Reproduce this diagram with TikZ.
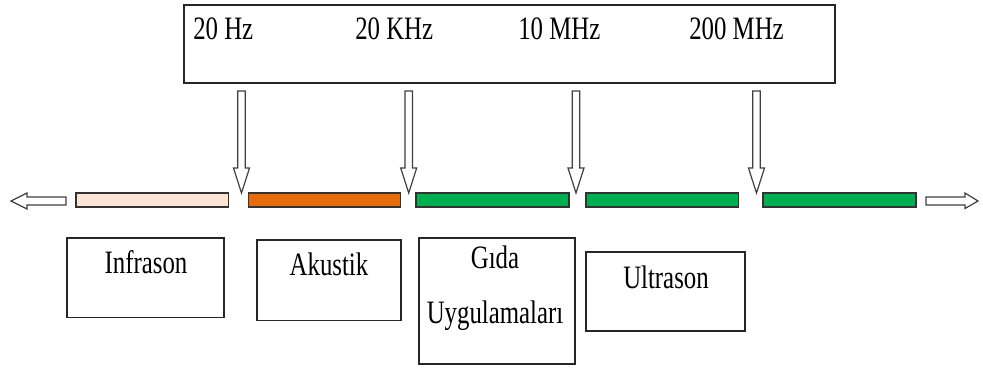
\documentclass[tikz,border=0pt]{standalone}
\usepackage{fontspec}
\newfontfamily\lblfont[FakeStretch=0.76]{Liberation Serif}
\definecolor{peach}{HTML}{FBE5D6}
\definecolor{orng}{HTML}{E46C0A}
\definecolor{grn}{HTML}{00B050}
\begin{document}
\begin{tikzpicture}[x=0.75pt,y=-0.75pt,
  frame/.style={draw=black!85,line width=1.1pt},
  bar/.style={draw=black!80,line width=1pt},
  blockarrow/.style={draw=black!75,line width=0.9pt,fill=white,line join=miter},
  txt/.style={font=\lblfont\fontsize{24.5}{41}\selectfont,inner sep=0pt,anchor=base,align=center},
  toptxt/.style={font=\lblfont\fontsize{24.5}{30}\selectfont,inner sep=0pt,anchor=base west}]
\useasboundingbox (0,0) rectangle (983,369);
% top box
\draw[frame] (184,5) rectangle (835,83);
\coordinate (topbottom) at (184,83);
\node[toptxt] (f1) at (193,39) {20 Hz};
\node[toptxt] (f2) at (355,39) {20 KHz};
\node[toptxt] (f3) at (518,39) {10 MHz};
\node[toptxt] (f4) at (689,39) {200 MHz};
% down arrows
\foreach \cx in {241.5,408.7,576,756.5}{
  \draw[blockarrow] (\cx-3.8,91) -- (\cx+3.8,91) -- (\cx+3.8,168) -- (\cx+8,168)
     -- (\cx,193) -- (\cx-8,168) -- (\cx-3.8,168) -- cycle;
}
% bars
\draw[bar,fill=peach] (76,193) rectangle (228.5,207);
\draw[bar,fill=orng] (248.5,193) rectangle (400.7,207);
\draw[bar,fill=grn] (416,193) rectangle (569,207);
\draw[bar,fill=grn] (586,193) rectangle (738.7,207);
\draw[bar,fill=grn] (763,193) rectangle (916,207);
% side arrows
\draw[blockarrow] (66,197) -- (27,197) -- (27,193) -- (11,201) -- (27,209) -- (27,205) -- (66,205) -- cycle;
\draw[blockarrow] (926,197) -- (965,197) -- (965,193) -- (978,201) -- (965,208.5) -- (965,205) -- (926,205) -- cycle;
% lower boxes
\draw[frame] (67,238) rectangle (224,317.5);
\draw[frame] (257,240) rectangle (401,320.5);
\draw[frame] (419,238) rectangle (575,364);
\draw[frame] (586,252) rectangle (745,331);
\node[txt] (t1) at (146,273) {Infrason};
\node[txt] (t2) at (329,275) {Akustik};
\node[txt] (t3a) at (495,268) {Gıda};
\node[txt] (t3b) at (495,323) {Uygulamaları};
\node[txt] (t4) at (666,288) {Ultrason};
\end{tikzpicture}
\end{document}
